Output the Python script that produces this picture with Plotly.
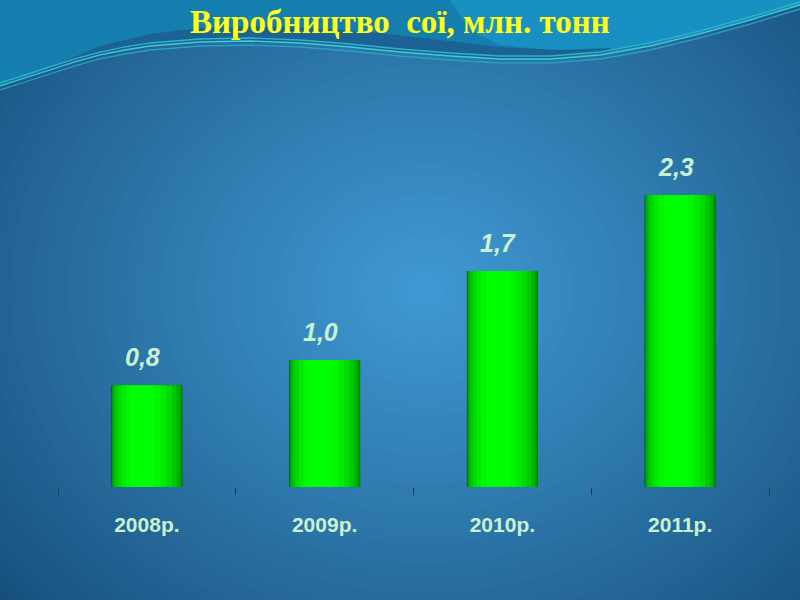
import plotly.graph_objects as go

# ---- data ----
categories = ["2008р.", "2009р.", "2010р.", "2011р."]
values = [0.8, 1.0, 1.7, 2.3]
value_labels = [f"{v:.1f}".replace(".", ",") for v in values]
title_text = "Виробництво  сої, млн. тонн"

# ---- layout geometry ----
W, H = 800, 600
L, R, T, B = 58, 31, 106, 113
PW, PH = W - L - R, H - T - B


def px(x):
    return (x - L) / PW


def py(y):
    return (H - B - y) / PH


def lerp_color(c1, c2, t):
    a = [int(c1[i:i + 2], 16) for i in (1, 3, 5)]
    b = [int(c2[i:i + 2], 16) for i in (1, 3, 5)]
    return "#" + "".join(f"{round(a[k] + (b[k] - a[k]) * t):02x}" for k in range(3))


shapes = []
# radial background gradient
edge, center = "#154c78", "#4099d3"
cx, cy, Rmax = 425, 290, 570
N = 50
for i in range(N):
    t = i / (N - 1)
    rx = Rmax * (1 - t) + 8
    ry = rx * 0.85
    col = lerp_color(edge, center, t ** 0.9)
    shapes.append(dict(type="circle", xref="paper", yref="paper",
                       x0=px(cx - rx), x1=px(cx + rx), y0=py(cy + ry), y1=py(cy - ry),
                       fillcolor=col, line=dict(width=0), layer="below"))


def path_from(points, close=False):
    s = "M " + " L ".join(f"{px(x):.4f},{py(y):.4f}" for x, y in points)
    return s + (" Z" if close else "")


wave = [(0, 86), (25, 78), (50, 70), (75, 62), (100, 55), (125, 50), (150, 46), (200, 42),
        (250, 41), (300, 43), (350, 47), (400, 52), (450, 56), (500, 59), (550, 59),
        (600, 55), (650, 46), (700, 34), (750, 20), (800, 5)]

# teal top band
shapes.append(dict(type="path", xref="paper", yref="paper",
                   path=path_from([(0, 0), (800, 0)] + wave[::-1], close=True),
                   fillcolor="#147fae", line=dict(width=0), layer="below"))
# lighter upper-right area
shapes.append(dict(type="path", xref="paper", yref="paper",
                   path=path_from([(450, 0), (800, 0), (800, 5), (750, 20), (700, 34), (650, 44),
                                   (600, 50), (550, 50), (500, 45), (470, 30)], close=True),
                   fillcolor="#1990c2", line=dict(width=0), layer="below"))
# darker swoosh above the line
swoosh_top = [(40, 72), (100, 46), (150, 34), (200, 28), (260, 26), (320, 28), (380, 33),
              (440, 40), (500, 47), (560, 50), (610, 48)]
swoosh_bottom = [(610, 52), (550, 58), (500, 58), (450, 55), (400, 51), (350, 46), (300, 42),
                 (250, 40), (200, 41), (150, 45), (100, 54), (50, 69)]
shapes.append(dict(type="path", xref="paper", yref="paper",
                   path=path_from(swoosh_top + swoosh_bottom, close=True),
                   fillcolor="#1b6394", line=dict(width=0), layer="below"))
# cyan lines
for dy, col in ((0, "#3fc9d2"), (-3, "#2fb3c8"), (4, "#2aa0c0")):
    shapes.append(dict(type="path", xref="paper", yref="paper",
                       path=path_from([(x, y + dy) for x, y in wave]),
                       line=dict(color=col, width=1.3), layer="below"))

fig = go.Figure()

# bars: overlaid layers give a horizontal green gradient
layers = [(-0.2, 0.4, "#005a18"), (-0.196, 0.394, "#009a00"), (-0.19, 0.375, "#00b400"),
          (-0.18, 0.345, "#00c800"), (-0.165, 0.305, "#00db00"), (-0.145, 0.255, "#00eb00"),
          (-0.12, 0.195, "#00f700"), (-0.09, 0.13, "#00ff00")]
for off, wd, col in layers:
    fig.add_trace(go.Bar(x=categories, y=values, offset=off, width=wd,
                         marker=dict(color=col, line=dict(width=0)),
                         hoverinfo="skip", showlegend=False))

# value labels
for c, v, lab in zip(categories, values, value_labels):
    fig.add_annotation(x=c, y=v, text=lab, showarrow=False, yanchor="bottom", yshift=12,
                       xshift=-4,
                       font=dict(family="Liberation Sans, Arial, sans-serif", size=25,
                                 color="#c8f2d2", weight="bold", style="italic"))

# title
fig.add_annotation(xref="paper", yref="paper", x=px(400), y=py(22), text=title_text,
                   showarrow=False, xanchor="center", yanchor="middle",
                   font=dict(family="Liberation Serif, DejaVu Serif, serif", size=33,
                             color="#ffff1a", weight="bold"))

fig.update_layout(
    width=W, height=H,
    margin=dict(l=L, r=R, t=T, b=B, pad=0),
    paper_bgcolor=edge, plot_bgcolor="rgba(0,0,0,0)",
    barmode="overlay", shapes=shapes, showlegend=False,
    xaxis=dict(showgrid=False, zeroline=False, showline=False, ticks="outside",
               tickson="boundaries", ticklen=7, tickwidth=1, tickcolor="#2a3a48",
               tickfont=dict(family="Liberation Sans, Arial, sans-serif", size=21,
                             color="#c8f2d2", weight="bold"),
               ticklabelstandoff=23, fixedrange=True),
    yaxis=dict(range=[0, 3], visible=False, showgrid=False, zeroline=False, fixedrange=True),
)

fig.write_html("out.html", config={"displayModeBar": False},
               post_script="document.body.style.margin='0';document.body.style.overflow='hidden';")
